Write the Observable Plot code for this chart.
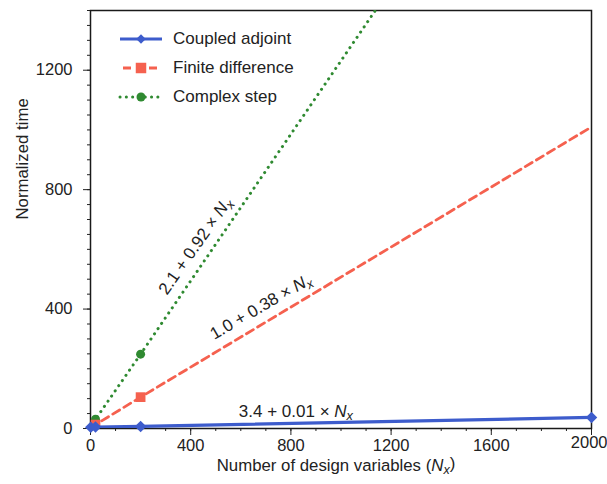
<!DOCTYPE html>
<html>
<head>
<meta charset="utf-8">
<script src="https://cdn.jsdelivr.net/npm/d3@7"></script>
<script src="https://cdn.jsdelivr.net/npm/@observablehq/plot@0.6"></script>
<style>
  html, body { margin: 0; padding: 0; background: #fff; }
  #wrap { position: relative; width: 607px; height: 484px; font-family: "Liberation Sans", Arial, sans-serif; }
  #legend { position: absolute; left: 118px; top: 24px; }
  .row { display: flex; align-items: center; height: 29px; font-size: 17px; color: #222; }
  .row svg { margin-right: 9px; }
</style>
</head>
<body>
<div id="wrap"></div>
<script>
// ---- data ----
const designVars = [1, 20, 200, 2000];
const coupledAdjoint = [4, 5, 7, 37];
const finiteDifference = [2, 13, 105, 1010];
const complexStep = [3, 31, 249, 2460];
const seriesNames = ["Coupled adjoint", "Finite difference", "Complex step"];
const fitLabels = ["2.1 + 0.92 × Nx", "1.0 + 0.38 × Nx", "3.4 + 0.01 × Nx"];
const xMajor = [0, 400, 800, 1200, 1600, 2000];
const yMajor = [0, 400, 800, 1200];

const xMinor = d3.range(0, 2001, 100);
const yMinor = d3.range(0, 1401, 50);

const blue = "#3d5ccc", red = "#f5614f", green = "#2f8a31";

const mk = (vals, name) => designVars.map((x, i) => ({x, y: vals[i], name}));
const adj = mk(coupledAdjoint, seriesNames[0]);
const fd = mk(finiteDifference, seriesNames[1]);
const cs = mk(complexStep, seriesNames[2]);

const notes = [
  {t: fitLabels[0], x: 418, y: 612, a: -55},
  {t: fitLabels[1], x: 680, y: 408, a: -30},
  {t: fitLabels[2], x: 820, y: 58, a: 0}
];
const lastX = xMajor[xMajor.length - 1];

const plot = Plot.plot({
  width: 607, height: 484,
  marginLeft: 90, marginRight: 16, marginTop: 10, marginBottom: 56,
  style: {fontFamily: "'Liberation Sans', Arial, sans-serif", fontSize: "16px", color: "#222", background: "white", overflow: "visible"},
  x: {domain: [0, 2000]},
  y: {domain: [0, 1400]},
  marks: [
    Plot.axisX({ticks: xMinor, tickSize: 3, tickFormat: () => "", label: null}),
    Plot.axisX({ticks: xMajor, tickSize: 7, tickPadding: 4, tickFormat: d => d === lastX ? "" : String(d), label: null, fontSize: 16.5}),
    Plot.text([lastX], {x: d => d, text: d => String(d), frameAnchor: "bottom", dy: 19, dx: 16, textAnchor: "end", fontSize: 16.5, fill: "#222"}),
    Plot.axisY({ticks: yMinor, tickSize: 3, tickFormat: () => "", label: null}),
    Plot.axisY({ticks: yMajor, tickSize: 7, tickPadding: 11, tickFormat: d => String(d), label: null, fontSize: 16.5}),
    Plot.frame({stroke: "#1a1a1a", strokeWidth: 1.5}),
    Plot.line(cs, {x: "x", y: "y", stroke: green, strokeWidth: 3, strokeDasharray: "0.1 6.2", strokeLinecap: "round", clip: true}),
    Plot.dot(cs, {x: "x", y: "y", fill: green, r: 4.5, symbol: "circle", clip: true}),
    Plot.line(fd, {x: "x", y: "y", stroke: red, strokeWidth: 2.8, strokeDasharray: "8 5", clip: true}),
    Plot.dot(fd.slice(0, 3), {x: "x", y: "y", fill: red, r: 5.5, symbol: "square", clip: true}),
    Plot.line(adj, {x: "x", y: "y", stroke: blue, strokeWidth: 3.2, clip: true}),
    Plot.dot(adj, {x: "x", y: "y", fill: blue, r: 4.6, symbol: "square", rotate: 45}),
    Plot.text(notes, {x: "x", y: "y", text: "t", rotate: "a", fontSize: 17, fill: "#222", textAnchor: "middle"}),
    Plot.text(["Number of design variables (Nx)"], {text: d => d, frameAnchor: "bottom", dy: 42, dx: -5, fontSize: 16.8, fill: "#222"}),
    Plot.text(["Normalized time"], {text: d => d, frameAnchor: "left", dx: -68, rotate: -90, fontSize: 16.8, fill: "#222"})
  ]
});

// italic N with subscript x
plot.querySelectorAll("text").forEach(el => {
  const s = el.textContent;
  const i = s.indexOf("Nx");
  if (i < 0 || el.querySelector("tspan")) return;
  const before = s.slice(0, i), after = s.slice(i + 2);
  el.textContent = before;
  const n = document.createElementNS("http://www.w3.org/2000/svg", "tspan");
  n.setAttribute("font-style", "italic"); n.textContent = "N";
  const x = document.createElementNS("http://www.w3.org/2000/svg", "tspan");
  x.setAttribute("font-style", "italic"); x.setAttribute("font-size", "0.75em"); x.setAttribute("dy", "0.3em"); x.textContent = "x";
  el.appendChild(n); el.appendChild(x);
  if (after) {
    const a = document.createElementNS("http://www.w3.org/2000/svg", "tspan");
    a.setAttribute("dy", "-0.3em"); a.textContent = after;
    el.appendChild(a);
  }
});

const wrap = document.getElementById("wrap");
wrap.appendChild(plot);

// legend
const legend = document.createElement("div");
legend.id = "legend";
const styles = [
  {c: blue, dash: null, w: 3.2, sym: d3.symbolSquare, size: 46, rot: 45},
  {c: red, dash: "8 5", w: 2.8, sym: d3.symbolSquare, size: 110, offset: -3},
  {c: green, dash: "0.1 6.2", w: 3, sym: d3.symbolCircle, size: 64, cap: "round"}
];
seriesNames.forEach((name, i) => {
  const st = styles[i];
  const row = document.createElement("div");
  row.className = "row";
  const svg = d3.create("svg").attr("width", 46).attr("height", 20);
  svg.append("line").attr("x1", 2).attr("x2", 44).attr("y1", 10).attr("y2", 10)
    .attr("stroke", st.c).attr("stroke-width", st.w)
    .attr("stroke-dasharray", st.dash).attr("stroke-linecap", st.cap || "butt")
    .attr("stroke-dashoffset", st.offset || 0);
  svg.append("path").attr("d", d3.symbol(st.sym, st.size)()).attr("transform", `translate(23,10) rotate(${st.rot || 0})`).attr("fill", st.c);
  row.appendChild(svg.node());
  const span = document.createElement("span");
  span.textContent = name;
  row.appendChild(span);
  legend.appendChild(row);
});
wrap.appendChild(legend);
</script>
</body>
</html>
